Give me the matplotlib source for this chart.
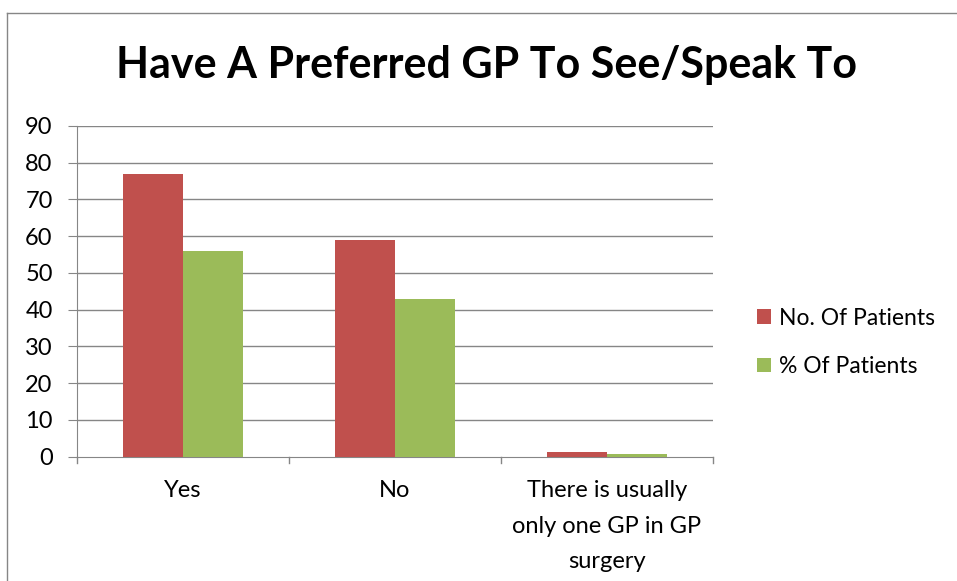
import matplotlib
matplotlib.use("Agg")
import matplotlib.pyplot as plt
from matplotlib.lines import Line2D
import numpy as np

categories = ["Yes", "No", "There is usually\nonly one GP in GP\nsurgery"]
no_of_patients = [77, 59, 1.2]
pct_of_patients = [56, 43, 0.8]
series_names = ["No. Of Patients", "% Of Patients"]
yticks = list(range(0, 91, 10))

plt.rcParams['font.family'] = ['Lato', 'DejaVu Sans']

fig = plt.figure(figsize=(9.57, 5.81), dpi=100)
L, R, T, B = 77, 713, 126, 456.5
ax = fig.add_axes([L/957, 1-B/581, (R-L)/957, (B-T)/581])

x = np.arange(len(categories))
w = 0.285
red = '#C0504D'
green = '#9BBB59'
grid = '#868686'
ax.bar(x - w/2, no_of_patients, w, color=red, label=series_names[0], zorder=3)
ax.bar(x + w/2, pct_of_patients, w, color=green, label=series_names[1], zorder=3)

ax.set_xlim(-0.5, 2.5)
ax.set_ylim(0, 90)
ax.set_yticks(yticks)
ax.set_yticklabels([str(t) for t in yticks], fontsize=17)
for y in yticks[1:]:
    ax.axhline(y, color=grid, lw=1.0, zorder=1)

for s in ['top', 'right']:
    ax.spines[s].set_visible(False)
ax.spines['left'].set_color(grid)
ax.spines['bottom'].set_color(grid)
ax.tick_params(axis='y', length=6.5, color=grid, pad=11)
ax.set_xticks(x)
ax.set_xticklabels(categories, fontsize=17, linespacing=1.85, va='top')
ax.tick_params(axis='x', length=0, pad=17)
for b in [-0.5, 0.5, 1.5, 2.5]:
    ax.plot([b, b], [0, -1.7], color=grid, lw=1.0, clip_on=False, zorder=2)

ax.legend(loc='center left', bbox_to_anchor=(757/957, 1-342.5/581), bbox_transform=fig.transFigure,
          frameon=False, fontsize=16.5, handlelength=0.6, handleheight=0.6, handletextpad=0.35,
          labelspacing=1.2, borderpad=0, borderaxespad=0)

fig.text(487/957, 1-65/581, "Have A Preferred GP To See/Speak To", ha='center', va='center',
         fontsize=31, fontweight='bold')

fig.add_artist(Line2D([7.5/957, 7.5/957], [0, 1-12.5/581], transform=fig.transFigure, color=grid, lw=1.0))
fig.add_artist(Line2D([7.5/957, 1], [1-12.5/581, 1-12.5/581], transform=fig.transFigure, color=grid, lw=1.0))

fig.savefig("out.png", dpi=100)
